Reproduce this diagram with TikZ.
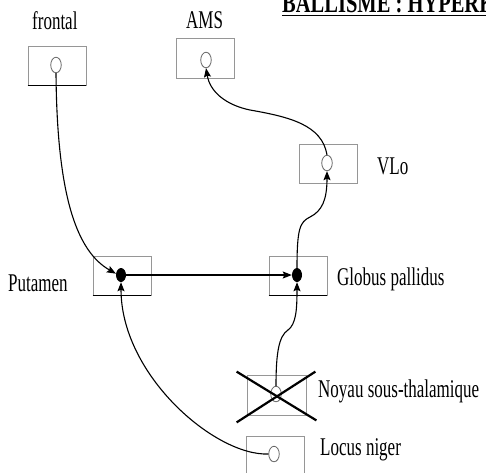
\documentclass[tikz,border=0pt]{standalone}
\usepackage{fontspec}
\setmainfont{Liberation Serif}
\usetikzlibrary{arrows.meta,shapes.geometric,calc}
\definecolor{boxgray}{RGB}{150,150,150}
\definecolor{holegray}{RGB}{100,100,100}
\tikzset{
  box/.style={draw=boxgray, line width=0.8pt, minimum width=58pt, minimum height=39pt, inner sep=0pt},
  hole/.style={ellipse, draw=holegray, line width=0.8pt, fill=white, minimum width=10.5pt, minimum height=15.5pt, inner sep=0pt},
  dot/.style={ellipse, fill=black, minimum width=10pt, minimum height=14pt, inner sep=0pt},
  lbl/.style={anchor=base west, inner sep=0pt, font=\fontsize{17}{20}\selectfont},
  link/.style={line width=1.1pt, -{Stealth[length=9pt,width=7pt,inset=1.5pt]}},
  edgebar/.style={line width=1pt, black},
  crossline/.style={line width=2.2pt, black}
}
\newcommand{\tall}[1]{\scalebox{1}[1.5]{#1}}
\begin{document}
\begin{tikzpicture}[x=1pt,y=-1pt]
\useasboundingbox (0,0) rectangle (486,472);
\clip (0,0) rectangle (486,472);

% boxes
\node[box] (fb) at (57,66) {};
\node[box, minimum height=40pt] (ab) at (205.5,58) {};
\node[box] (vb) at (328,163.5) {};
\node[box] (pb) at (122,275.5) {};
\node[box] (gb) at (298,275.5) {};
\node[box, minimum width=59pt, minimum height=40pt] (nb) at (276.5,395) {};
\node[box] (lb) at (275,456) {};

% darker bottom edges
\draw[edgebar] (fb.south west) -- (fb.south east);
\draw[edgebar] (pb.south west) -- (pb.south east);
\draw[edgebar] (gb.south west) -- (gb.south east);

% labels
\node[lbl] (tf) at (32,29) {\tall{frontal}};
\node[lbl] (ta) at (186,28) {\tall{AMS}};
\node[lbl] (tv) at (377,174) {\tall{VLo}};
\node[lbl] (tp) at (8,291) {\tall{Putamen}};
\node[lbl] (tg) at (337,285) {\tall{Globus pallidus}};
\node[lbl] (tn) at (318,397) {\tall{Noyau sous-thalamique}};
\node[lbl] (tl) at (320,455) {\tall{Locus niger}};
\node[lbl, font=\fontsize{20.5}{24}\selectfont\bfseries] (title) at (282,12) {\scalebox{1}[1.35]{BALLISME : HYPERKINESIE}};
\draw[line width=1.8pt] (282,15.5) -- (486,15.5);

% neurons
\node[hole] (fc) at (56,65) {};
\node[hole] (ac) at (206,60) {};
\node[hole] (vc) at (327,163) {};
\node[dot] (pd) at (121,275) {};
\node[dot] (gd) at (297,275) {};
\node[hole] (nc) at (276,394) {};
\node[hole] (lc) at (274,454) {};

% connectors
\draw[link] (fc.south) .. controls (57,200) and (78,252) .. (pd.165);
\draw[link] (pd.east) -- (gd.west);
\draw[link] (lc.west) .. controls (215,456) and (121,375) .. (pd.south);
\draw[link] (nc.north) .. controls (276,352) and (279,336) .. (288,330)
            .. controls (296,324) and (297,310) .. (gd.south);
\draw[link] (gd.north) .. controls (297,228) and (300,222) .. (310,217)
            .. controls (322,211) and (327,200) .. (vc.south);
\draw[link] (vc.north) .. controls (322,125) and (290,117) .. (250,110)
            .. controls (226,105) and (210,92) .. (ac.south);

% cross over the subthalamic nucleus
\draw[crossline] ($(nb.north west)+(-10,-3)$) -- ($(nb.south east)+(10,5)$);
\draw[crossline] ($(nb.south west)+(-10,7)$) -- ($(nb.north east)+(9,-3)$);
\end{tikzpicture}
\end{document}
